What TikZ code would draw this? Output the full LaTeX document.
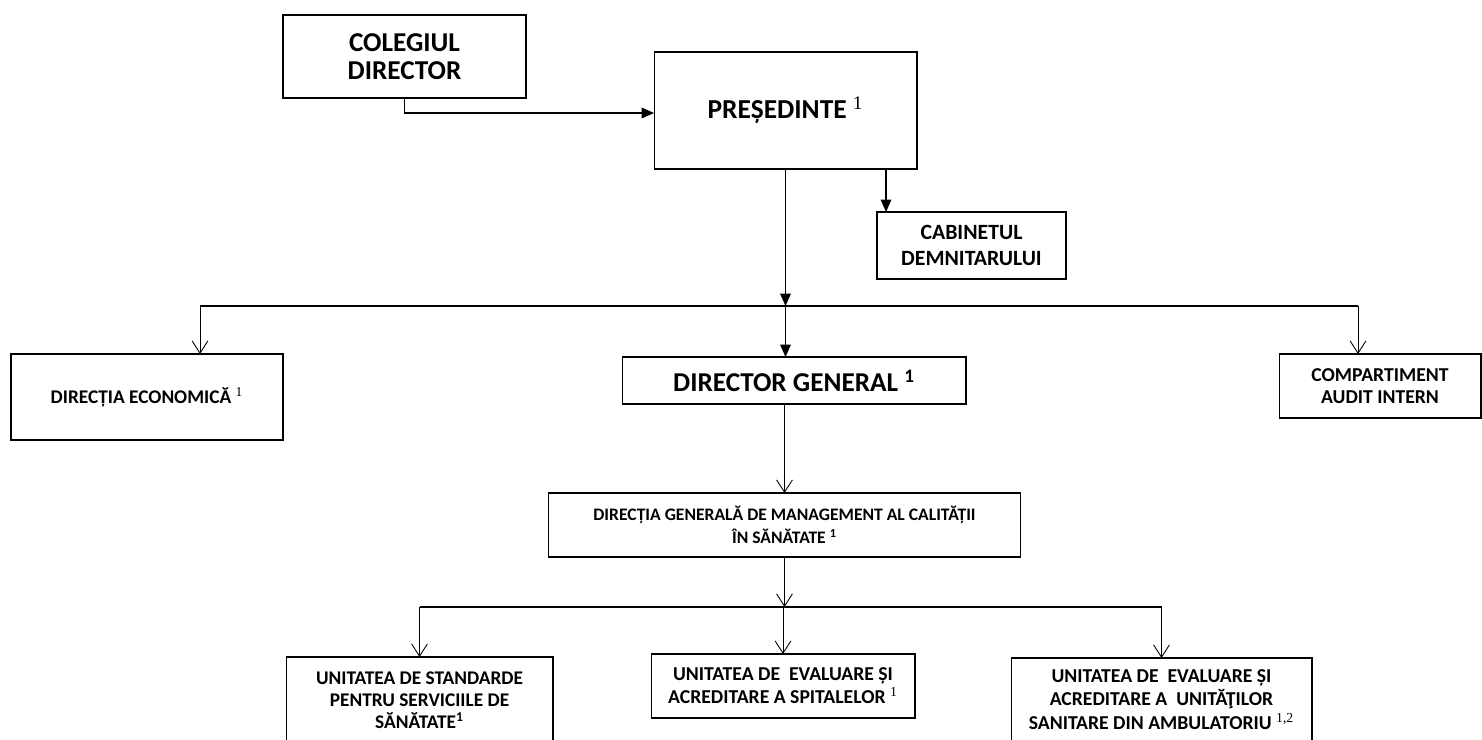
\documentclass[tikz,border=0pt]{standalone}
\usepackage{fontspec}
\setmainfont{Carlito}
\newfontfamily\serifsup{Liberation Serif}
\usetikzlibrary{arrows.meta, positioning, calc}
\tikzset{
    box/.style={draw, line width=0.6pt, align=center, inner sep=0pt, outer sep=0pt},
    solid_arrow/.style={-{Triangle[length=7pt, width=6pt]}, line width=0.6pt},
    open_arrow/.style={-{Straight Barb[length=7pt, width=9pt]}, line width=0.5pt},
    bus_line/.style={line width=0.6pt}
}
\newcommand{\fs}[2]{\fontsize{#1}{#2}\selectfont\bfseries}
\newcommand{\sernote}[1]{\textsuperscript{\serifsup\mdseries #1}}

\begin{document}
\begin{tikzpicture}[x=0.02cm, y=-0.02cm]
    \useasboundingbox (0,0) rectangle (1482,740);
    \clip (0,0) rectangle (1482,740);
    % Top level
    \node[box, minimum width=4.86cm, minimum height=1.66cm, font=\fs{15.5}{16}] (colegiul) at (404.5,56.5) {COLEGIUL\\DIRECTOR};
    \node[box, minimum width=5.26cm, minimum height=2.34cm, font=\fs{15.6}{16}] (pres) at (785.5,110.5) {PREȘEDINTE \sernote{1}};
    \node[box, minimum width=3.78cm, minimum height=1.34cm, font=\fs{12.4}{14.7}] (cabinet) at (971.5,245.5) {CABINETUL\\DEMNITARULUI};
    % Second level
    \node[box, minimum width=5.44cm, minimum height=1.72cm, font=\fs{11}{13}] (direcon) at (147,397) {DIRECȚIA ECONOMICĂ \sernote{1}};
    \node[box, minimum width=6.88cm, minimum height=0.94cm, font=\fs{15.5}{16}] (dg) at (794,380.5) {DIRECTOR GENERAL \textsuperscript{1}};
    \node[box, minimum width=4.04cm, minimum height=1.28cm, font=\fs{11.2}{12.5}] (audit) at (1380,386) {COMPARTIMENT\\AUDIT INTERN};
    % Quality directorate
    \node[box, minimum width=9.46cm, minimum height=1.28cm, font=\fs{10}{13}] (dgmcs) at (784.5,525) {DIRECȚIA GENERALĂ DE MANAGEMENT AL CALITĂȚII\\ÎN SĂNĂTATE \textsuperscript{1}};
    % Units
    \node[box, minimum width=5.34cm, minimum height=1.72cm, font=\fs{11}{12.5}] (unit1) at (419.5,700) {UNITATEA DE STANDARDE\\PENTRU SERVICIILE DE\\SĂNĂTATE\textsuperscript{1}};
    \node[box, minimum width=5.28cm, minimum height=1.28cm, font=\fs{11.2}{13}] (unit2) at (783,686) {UNITATEA DE\ \ EVALUARE ȘI\\ACREDITARE A SPITALELOR \sernote{1}};
    \node[box, minimum width=6.02cm, minimum height=1.66cm, font=\fs{11.2}{13.3}] (unit3) at (1161.5,699.5) {UNITATEA DE\ \ EVALUARE ȘI\\ACREDITARE A\ \ UNITĂŢILOR\\SANITARE DIN AMBULATORIU \sernote{1,2}};
    % Buses
    \coordinate (topbus) at (pres.south |- 0,306);
    \coordinate (busL) at (200,306);
    \coordinate (busR) at (1358,306);
    \coordinate (botbus) at (dgmcs.south |- 0,607);
    \coordinate (cabtap) at ([xshift=0.18cm]cabinet.north west);
    % Connectors
    \draw[solid_arrow] (colegiul.south) |- ([yshift=-0.05cm]pres.west);
    \draw[solid_arrow] (pres.south) -- (topbus);
    \draw[solid_arrow] (topbus) -- (topbus |- dg.north);
    \draw[solid_arrow] (cabtap |- pres.south) -- (cabtap);
    \draw[bus_line] (busL) -- (busR);
    \draw[open_arrow] (busL) -- (busL |- direcon.north);
    \draw[open_arrow] (busR) -- (busR |- audit.north);
    \draw[open_arrow] (dgmcs.north |- dg.south) -- (dgmcs.north);
    \draw[open_arrow] (dgmcs.south) -- (botbus);
    \draw[bus_line] (unit1.north |- botbus) -- (unit3.north |- botbus);
    \foreach \u in {unit1, unit2, unit3}
        \draw[open_arrow] (\u.north |- botbus) -- (\u.north);
\end{tikzpicture}
\end{document}
